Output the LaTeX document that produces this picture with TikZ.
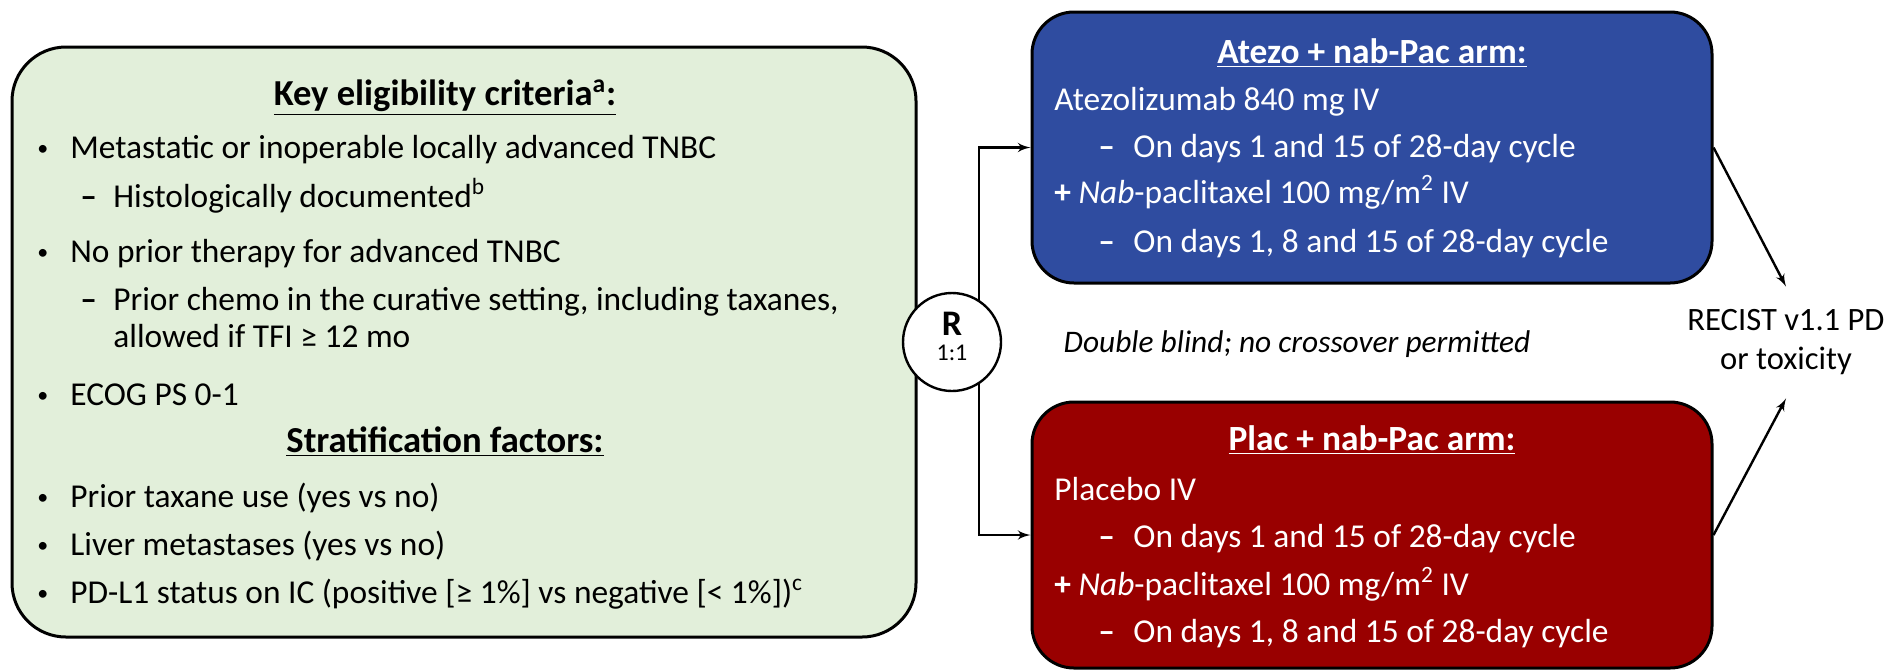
\documentclass[tikz,border=0pt]{standalone}
\usepackage{fontspec}
\setmainfont{Carlito}
\usetikzlibrary{positioning,arrows}
\definecolor{eligfill}{RGB}{226,239,218}
\definecolor{atezoblue}{RGB}{47,76,160}
\definecolor{placred}{RGB}{153,0,0}
\tikzset{
  >=latex',
  box/.style={draw, line width=1.5pt, inner sep=0pt},
  ln/.style={anchor=base west, inner sep=0pt, font=\fontsize{16.7}{18}\selectfont},
  head/.style={anchor=base, inner sep=0pt, font=\fontsize{18.3}{18}\selectfont\bfseries},
  armln/.style={ln, text=white},
  armhead/.style={head, text=white, font=\fontsize{17.7}{18}\selectfont\bfseries},
  conn/.style={line width=1.2pt},
}
\newcommand{\blt}{\makebox[16.5pt][l]{\raisebox{1.2pt}{\fontsize{11}{11}\selectfont•}}}
\newcommand{\subd}{\makebox[16.5pt][l]{\textbf{–}}}
\newcommand{\armd}{\makebox[17.5pt][l]{\textbf{–}}}

\begin{document}
\begin{tikzpicture}[x=0.5pt, y=-0.5pt]
  \useasboundingbox (0,0) rectangle (1888,671);
  % eligibility box
  \node[box, fill=eligfill, rounded corners=27pt, minimum width=452pt, minimum height=295pt] (elig) at (464,342) {};
  \node[head] (k0) at (445,105) {\underline{Key eligibility criteria\textsuperscript{a}:}};
  \node[ln] (k1) at (37,158) {\blt Metastatic or inoperable locally advanced TNBC};
  \node[ln] (k2) at (80,207) {\subd Histologically documented\textsuperscript{b}};
  \node[ln] (k3) at (37,262) {\blt No prior therapy for advanced TNBC};
  \node[ln] (k4) at (80,310) {\subd Prior chemo in the curative setting, including taxanes,};
  \node[ln] (k5) at (113,347) {allowed if TFI ≥ 12 mo};
  \node[ln] (k6) at (37,405) {\blt ECOG PS 0-1};
  \node[head] (s0) at (445,452) {\underline{Stratification factors:}};
  \node[ln] (s1) at (37,507) {\blt Prior taxane use (yes vs no)};
  \node[ln] (s2) at (37,555) {\blt Liver metastases (yes vs no)};
  \node[ln] (s3) at (37,603) {\blt PD-L1 status on IC (positive [≥ 1\%] vs negative [< 1\%])\textsuperscript{c}};

  % treatment arms
  \node[box, fill=atezoblue, rounded corners=21pt, minimum width=340pt, minimum height=135.5pt] (atezo) at (1372,147.5) {};
  \node[armhead] (a0) at (1372,63) {\underline{Atezo + nab-Pac arm:}};
  \node[armln] (a1) at (1054,110) {Atezolizumab 840 mg IV};
  \node[armln] (a2) at (1098,157) {\armd On days 1 and 15 of 28-day cycle};
  \node[armln] (a3) at (1054,203) {\textbf{+} \textit{Nab}-paclitaxel 100 mg/m\textsuperscript{2} IV};
  \node[armln] (a4) at (1098,252) {\armd On days 1, 8 and 15 of 28-day cycle};

  \node[box, fill=placred, rounded corners=21pt, minimum width=340pt, minimum height=133pt] (plac) at (1372,535) {};
  \node[armhead] (p0) at (1372,450) {\underline{Plac + nab-Pac arm:}};
  \node[armln] (p1) at (1054,500) {Placebo IV};
  \node[armln] (p2) at (1098,547) {\armd On days 1 and 15 of 28-day cycle};
  \node[armln] (p3) at (1054,595) {\textbf{+} \textit{Nab}-paclitaxel 100 mg/m\textsuperscript{2} IV};
  \node[armln] (p4) at (1098,642) {\armd On days 1, 8 and 15 of 28-day cycle};

  \node[anchor=base, inner sep=0pt, font=\fontsize{15.7}{18}\selectfont\itshape] (blind) at (1297,352) {Double blind; no crossover permitted};
  \node[align=center, inner sep=0pt, minimum height=55.5pt, font=\fontsize{16.3}{19.5}\selectfont] (recist) at (1786,342.5) {RECIST v1.1 PD\\or toxicity};

  % randomisation
  \coordinate (split) at (979,342);
  \draw[conn, ->] (split) |- (atezo.west);
  \draw[conn, ->] (split) |- (plac.west);
  \node[circle, draw, fill=white, line width=1.2pt, minimum size=49pt, inner sep=0pt] (rand) at (952,342) {};
  \node[align=center, inner sep=0pt, font=\fontsize{12}{12}\selectfont] (rlab) at (952,336) {{\fontsize{18}{18}\selectfont\bfseries R}\\[0.5pt]1:1};

  \draw[conn, ->] (atezo.east) -- (recist.north);
  \draw[conn, ->] (plac.east) -- (recist.south);
\end{tikzpicture}
\end{document}
